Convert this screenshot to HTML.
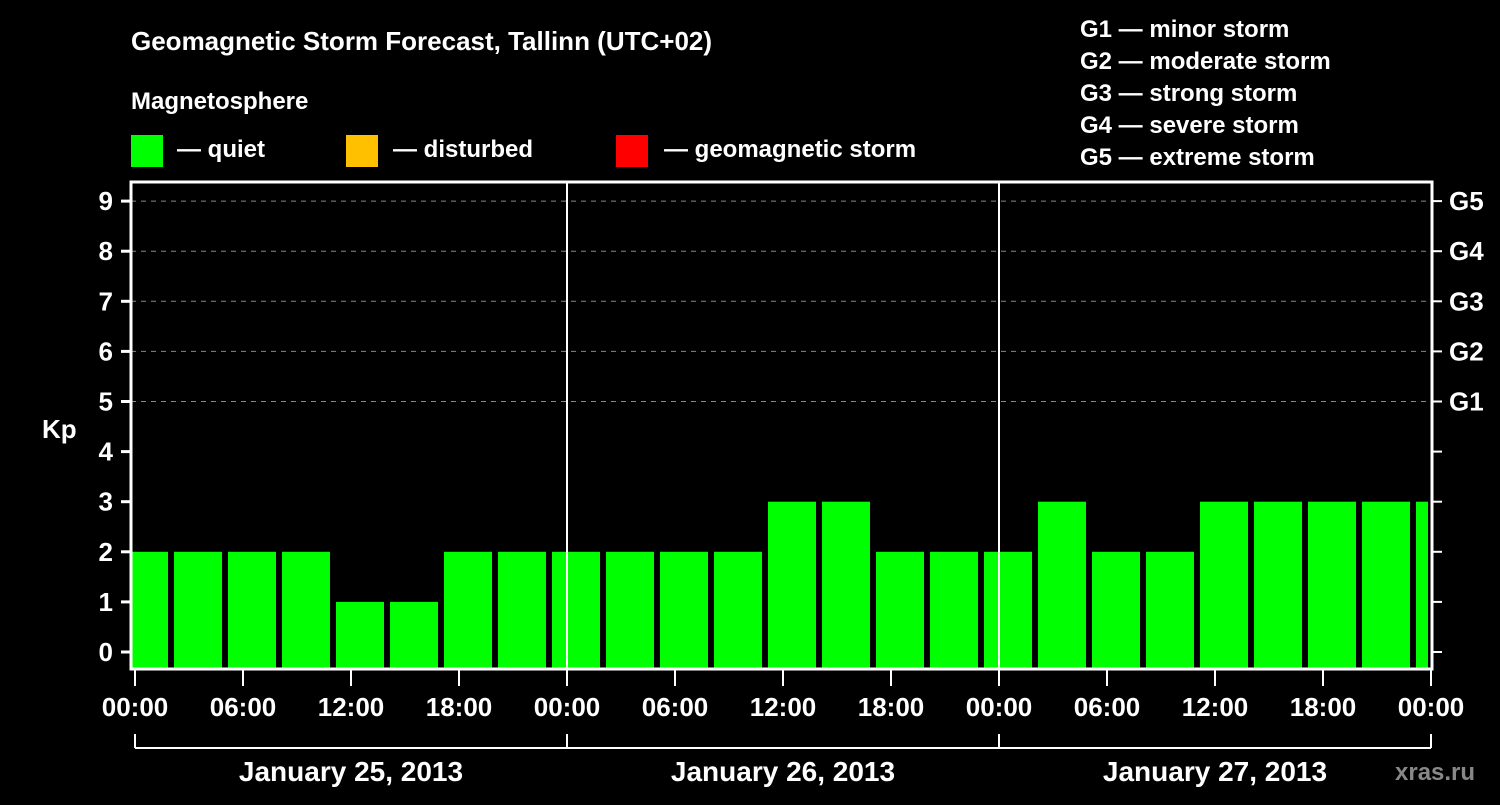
<!DOCTYPE html>
<html><head><meta charset="utf-8"><style>
body{margin:0;background:#000;width:1500px;height:800px;overflow:hidden;font-family:"Liberation Sans",sans-serif}
svg text{font-family:"Liberation Sans",sans-serif;font-weight:bold;fill:#fff}
</style></head><body>
<svg id="c" width="1500" height="800">
<text x="131" y="50" font-size="26">Geomagnetic Storm Forecast, Tallinn (UTC+02)</text>
<text x="131" y="109" font-size="24">Magnetosphere</text>
<g><rect x="131" y="135" width="32" height="32" fill="#00ff00"/><text x="177" y="157" font-size="24">— quiet</text></g>
<g><rect x="346" y="135" width="32" height="32" fill="#ffc000"/><text x="393" y="157" font-size="24">— disturbed</text></g>
<g><rect x="616" y="135" width="32" height="32" fill="#ff0000"/><text x="664" y="157" font-size="24">— geomagnetic storm</text></g>
<g font-size="24">
<text x="1080" y="37" font-size="24">G1 — minor storm</text>
<text x="1080" y="69" font-size="24">G2 — moderate storm</text>
<text x="1080" y="101" font-size="24">G3 — strong storm</text>
<text x="1080" y="133" font-size="24">G4 — severe storm</text>
<text x="1080" y="165" font-size="24">G5 — extreme storm</text>
</g>
<text x="42" y="438" font-size="26">Kp</text>
<text x="1395" y="780" font-size="24" fill="#888" style="fill:#888">xras.ru</text>
<g id="g"></g>
</svg>
<script>
const kpValues=[2,2,2,2,1,1,2,2,2,2,2,2,3,3,2,2,2,3,2,2,3,3,3,3,3];
const yTicks=[0,1,2,3,4,5,6,7,8,9];
const gLabels=["G1","G2","G3","G4","G5"];
const xTickLabels=["00:00","06:00","12:00","18:00","00:00","06:00","12:00","18:00","00:00","06:00","12:00","18:00","00:00"];
const dayLabels=["January 25, 2013","January 26, 2013","January 27, 2013"];
const NS="http://www.w3.org/2000/svg",g=document.getElementById('g');
const X0=135,PH=18,Y0=652,PU=50.1,L=131,R=1432,T=182,B=669;
const xs=h=>X0+h*PH, ys=v=>Y0-v*PU;
function el(t,a,txt){const e=document.createElementNS(NS,t);for(const k in a)e.setAttribute(k,a[k]);if(txt!=null)e.textContent=txt;g.appendChild(e);return e;}
const clip=el('clipPath',{id:'cp'});const cr=document.createElementNS(NS,'rect');cr.setAttribute('x',L);cr.setAttribute('y',T);cr.setAttribute('width',R-L-4);cr.setAttribute('height',B-T);clip.appendChild(cr);
yTicks.forEach(v=>{if(v>=5){const l=el('line',{x1:L,x2:R,y1:ys(v),y2:ys(v),stroke:'#888','stroke-dasharray':'5,5','stroke-width':1});}});
const bg=el('g',{'clip-path':'url(#cp)'});
kpValues.forEach((v,i)=>{const c=xs(0.5+3*i);const r=document.createElementNS(NS,'rect');r.setAttribute('x',c-24);r.setAttribute('width',48);r.setAttribute('y',ys(v)+0);r.setAttribute('height',B-ys(v));r.setAttribute('fill',v>=5?'#ff0000':v>=4?'#ffc000':'#00ff00');


bg.appendChild(r);});
[1,2].forEach(d=>{const l=el('line',{x1:xs(24*d),x2:xs(24*d),y1:T,y2:B,stroke:'#fff','stroke-width':2});});
const f=el('rect',{x:L,y:T,width:R-L,height:B-T,fill:'none',stroke:'#fff','stroke-width':3});
yTicks.forEach(v=>{const y=ys(v);el('line',{x1:121,x2:L,y1:y,y2:y,stroke:'#fff','stroke-width':3});el('line',{x1:R,x2:1442,y1:y,y2:y,stroke:'#fff','stroke-width':2});
const t=el('text',{x:113,y:y+9,'font-size':26,'text-anchor':'end'},v);});
gLabels.forEach((s,i)=>{const t=el('text',{x:1449,y:ys(5+i)+9,'font-size':26},s);});
xTickLabels.forEach((s,i)=>{const x=xs(6*i);el('line',{x1:x,x2:x,y1:B,y2:686,stroke:'#fff','stroke-width':2});const t=el('text',{x:x,y:716,'font-size':26,'text-anchor':'middle'},s);});
el('line',{x1:xs(0),x2:xs(72),y1:748,y2:748,stroke:'#fff','stroke-width':2});
[0,1,2,3].forEach(d=>el('line',{x1:xs(24*d),x2:xs(24*d),y1:734,y2:748,stroke:'#fff','stroke-width':2}));
dayLabels.forEach((s,i)=>{const t=el('text',{x:xs(24*i+12),y:781,'font-size':28,'text-anchor':'middle'},s);});
</script>
</body></html>
